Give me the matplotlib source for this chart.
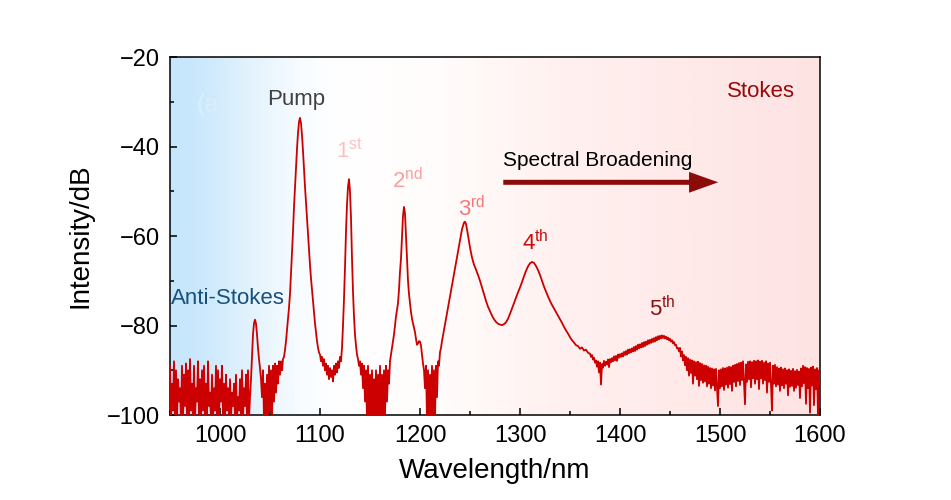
"""Cascaded Raman spectrum: pump, Stokes orders and anti-Stokes line."""

import numpy as np
import matplotlib
matplotlib.use("Agg")
import matplotlib.pyplot as plt
from matplotlib.colors import LinearSegmentedColormap
from matplotlib.ticker import MultipleLocator
from matplotlib.patches import FancyArrowPatch

plt.rcParams["font.family"] = ["Liberation Sans", "DejaVu Sans"]

# 950 .. 1220 nm, 1 nm steps (anti-Stokes, pump, 1st and 2nd order)
db_main = [
    -89, -101, -93, -99, -88, -101, -90, -101, -92, -97,          # 950
    -94, -101, -89, -101, -91, -98, -88.5, -101, -90, -101,       # 960
    -87.5, -99, -93, -101, -89, -101, -94, -97, -88, -101,        # 970
    -92, -101, -90, -99, -89, -101, -93, -101, -88, -98,          # 980
    -95, -101, -91, -101, -94, -99, -89, -101, -90, -101,         # 990
    -92, -97, -89, -101, -93, -101, -91, -99, -94, -101,          # 1000
    -92, -101, -95, -98, -93, -101, -91, -101, -96, -99,          # 1010
    -92, -101, -90, -101, -94, -98, -91, -101, -90, -101,         # 1020
    -96, -92, -87, -82, -79.5, -78.7, -79.6, -82, -85, -87.5,     # 1030
    -89.5, -92, -96, -90, -101, -93, -101, -91, -101, -89,        # 1040
    -99, -90, -101, -89, -97, -88.5, -95, -89, -93, -88,          # 1050
    -91, -88, -90, -87.5, -87, -85.5, -83.5, -81, -78.5, -76,     # 1060
    -73, -68.5, -64, -59, -53.5, -49, -44.5, -40.5, -37, -34.5,   # 1070
    -33.6, -34.8, -37.5, -41, -45, -49, -52.5, -56, -59.5, -63,   # 1080
    -66.5, -69.5, -72, -74.5, -77, -79.5, -81.5, -83.5, -85, -86, # 1090
    -86.5, -88, -87, -89, -87.5, -90, -88.5, -91, -89, -92,       # 1100
    -89.5, -91.5, -90, -92.5, -89, -91, -88.5, -90.5, -88, -89.5, # 1110
    -87, -88, -85, -80, -74, -67, -59, -53, -49, -47.3,           # 1120
    -50, -56, -65, -72.5, -78, -82, -84.5, -86.5, -87.5, -89,     # 1130
    -88, -91, -88.5, -94, -89, -97, -90, -101, -89, -101,         # 1140
    -91, -101, -90, -101, -92, -101, -90, -101, -91, -101,        # 1150
    -89, -101, -91, -101, -90, -100, -89, -97, -90, -93,          # 1160
    -88, -86.5, -85, -83.5, -82, -80, -78, -76.5, -75, -72,       # 1170
    -68, -65, -60, -55.5, -53.5, -55, -60, -65.5, -70, -73,       # 1180
    -75, -77, -78.5, -79.5, -80.5, -81.5, -83, -84.3, -84, -83.5, # 1190
    -83.6, -84.5, -86.5, -88.5, -90, -94, -89, -101, -90, -101,   # 1200
    -91, -101, -89, -101, -90, -101, -89, -96, -88, -89,          # 1210
    -86,                                                          # 1220
]
wl_main = 950 + np.arange(len(db_main))

# 3rd and 4th order, smooth part
wl_mid = [1221, 1222, 1224, 1226, 1228, 1230, 1232, 1234, 1236, 1238,
          1240, 1242, 1244, 1245, 1246, 1248, 1250, 1252, 1254, 1256,
          1258, 1260, 1262, 1264, 1266, 1268, 1270, 1272, 1274, 1276,
          1278, 1280, 1282, 1284, 1286, 1288, 1290, 1292, 1294, 1296,
          1298, 1300, 1302, 1304, 1306, 1308, 1310, 1312, 1314, 1316,
          1318, 1320, 1322, 1324, 1326, 1328, 1330, 1332, 1334, 1336,
          1338, 1340, 1342, 1344, 1346, 1348, 1350, 1352, 1354, 1356,
          1358, 1360, 1362, 1364, 1366, 1368, 1370]
db_mid = [-85, -83.5, -81, -78.5, -76, -73.6, -71, -68.5, -66, -63.5,
          -61, -58.5, -57, -56.8, -57.3, -59.8, -62.6, -64.8, -66.4, -67.5,
          -68.7, -70, -71.5, -73, -74.5, -75.8, -76.8, -77.8, -78.6, -79.2,
          -79.6, -79.8, -79.9, -79.7, -79.3, -78.5, -77.4, -76.2, -75, -73.8,
          -72.6, -71.5, -70.3, -69, -67.8, -66.8, -66.1, -65.8, -66, -66.7,
          -67.6, -68.7, -70, -71.3, -72.4, -73.5, -74.5, -75.4, -76.2, -77.0,
          -77.8, -78.6, -79.4, -80.3, -81.1, -81.8, -82.6, -83.3, -83.8, -84.4,
          -84.6, -85.2, -84.9, -85.6, -85.4, -86.1, -86.3]

# 1371 .. 1600 nm, 1 nm steps (5th order and noise floor)
db_tail = [
    -87.0, -86.6, -87.6, -87.2, -88.3, -87.8, -89.2, -88.0, -90.5,         # 1371
    -88.3, -93.2, -88.6, -89.4, -87.9, -89.0, -88.1, -88.7, -87.6, -89.3,  # 1380
    -87.5, -88.2, -87.3, -88.0, -86.9, -87.8, -86.8, -87.9, -86.5, -87.2,  # 1390
    -86.4, -87.0, -86.2, -86.9, -85.9, -86.6, -85.7, -86.5, -85.4, -86.2,  # 1400
    -85.3, -86.0, -85.1, -85.8, -84.8, -85.7, -84.6, -85.4, -84.3, -85.1,  # 1410
    -84.2, -84.9, -83.9, -84.8, -83.7, -84.6, -83.6, -84.3, -83.3, -84.1,  # 1420
    -83.2, -83.9, -83.0, -83.7, -82.8, -83.6, -82.6, -83.3, -82.4, -83.1,  # 1430
    -82.3, -82.9, -82.2, -82.8, -82.3, -82.9, -82.5, -83.1, -82.7, -83.3,  # 1440
    -83.0, -83.6, -83.3, -84.0, -83.7, -84.4, -84.3, -85.1, -85.0, -85.8,  # 1450
    -85.0, -86.9, -85.8, -87.8, -86.6, -88.9, -87.0, -90.0, -87.3, -91.2,  # 1460
    -87.6, -90.6, -87.8, -93.0, -88.0, -91.2, -88.2, -92.0, -88.1, -93.5,  # 1470
    -88.4, -92.2, -88.6, -92.8, -88.9, -92.5, -89.0, -93.6, -89.2, -93.0,  # 1480
    -89.5, -94.0, -89.6, -93.4, -89.8, -94.5, -89.7, -93.8, -98.0, -90.0,  # 1490
    -94.0, -89.8, -93.6, -89.5, -94.4, -89.6, -93.2, -89.4, -93.9, -89.2,  # 1500
    -93.1, -89.3, -94.6, -89.0, -92.6, -88.8, -93.6, -88.6, -92.4, -88.4,  # 1510
    -93.3, -88.3, -92.2, -88.0, -92.8, -97.6, -88.7, -92.6, -88.1, -92.0,  # 1520
    -88.0, -93.8, -88.2, -91.8, -87.9, -93.0, -88.0, -92.0, -87.8, -94.2,  # 1530
    -88.1, -91.8, -87.9, -93.0, -88.3, -92.2, -88.0, -95.0, -88.5, -92.6,  # 1540
    -88.3, -93.2, -99.0, -89.0, -93.0, -88.8, -93.6, -89.3, -93.2, -89.6,  # 1550
    -94.6, -89.4, -93.4, -89.8, -94.0, -89.6, -93.0, -90.0, -95.6, -89.8,  # 1560
    -93.7, -90.1, -93.5, -89.7, -94.6, -90.2, -93.9, -89.9, -93.3, -90.3,  # 1570
    -96.2, -89.6, -93.6, -89.0, -92.9, -89.3, -97.5, -89.5, -94.0, -89.7,  # 1580
    -99.5, -89.4, -93.4, -89.2, -97.8, -89.8, -94.2, -89.5, -100.5, -90.0, # 1590
    -92.8,                                                                 # 1600
]
wl_tail = 1371 + np.arange(len(db_tail))

wavelength = np.concatenate([wl_main, wl_mid, wl_tail])
intensity = np.concatenate([db_main, db_mid, db_tail])

# order labels: text, anchor (nm, dB), colour
orders = [
    (r"$\mathregular{1^{st}}$", 1116.5, -42.4, "#fcc0c0"),
    (r"$\mathregular{2^{nd}}$", 1171.5, -49.3, "#f9a0a0"),
    (r"$\mathregular{3^{rd}}$", 1237.5, -55.5, "#f47a7a"),
    (r"$\mathregular{4^{th}}$", 1302.5, -63.1, "#cc0a0a"),
    (r"$\mathregular{5^{th}}$", 1429.0, -77.9, "#8b1010"),
]

fig = plt.figure(figsize=(9.51, 5.0), dpi=100)
ax = fig.add_axes([170 / 951, 85 / 500, 650 / 951, 358 / 500])

# background: blue on the anti-Stokes side, pink on the Stokes side
bg = LinearSegmentedColormap.from_list("bg", [
    (0.00, "#c5e6fc"), (0.05, "#cce9fc"), (0.12, "#e2f2fd"),
    (0.20, "#f8fcff"), (0.26, "#ffffff"), (0.42, "#fffcfb"),
    (0.60, "#fff1f0"), (0.80, "#ffe9e9"), (1.00, "#fee3e3")])
ax.imshow(np.linspace(0, 1, 512)[None, :], cmap=bg, aspect="auto",
          extent=(950, 1600, -100, -20), zorder=0)

ax.plot(wavelength, intensity, color="#cc0000", lw=1.3, zorder=3)

ax.set_xlim(950, 1600)
ax.set_ylim(-100, -20)
ax.xaxis.set_major_locator(MultipleLocator(100))
ax.xaxis.set_minor_locator(MultipleLocator(50))
ax.yaxis.set_major_locator(MultipleLocator(20))
ax.yaxis.set_minor_locator(MultipleLocator(10))
ax.tick_params(which="both", direction="in", top=False, right=False, width=1.1)
ax.tick_params(which="major", length=5, labelsize=17, pad=7)
ax.tick_params(which="minor", length=3)
for s in ax.spines.values():
    s.set_linewidth(1.1)

ax.set_xlabel("Wavelength/nm", fontsize=20, labelpad=8)
ax.set_ylabel("Intensity/dB", fontsize=20, labelpad=10)

ax.text(977, -32.3, "(a)", fontsize=18, color="#d8eefd", zorder=2)
ax.text(1047.5, -30.7, "Pump", fontsize=16, color="#404040", zorder=4)
ax.text(950.5, -75.2, "Anti-Stokes", fontsize=16, color="#16507f", zorder=4)
ax.text(1507, -28.9, "Stokes", fontsize=16, color="#960a0a", zorder=4)
ax.text(1283, -44.4, "Spectral Broadening", fontsize=15, color="black", zorder=4)
for label, x, y, c in orders:
    ax.text(x, y, label, fontsize=16, color=c, zorder=4)

arrow = FancyArrowPatch((1280.5, -48.0), (1501, -48.0),
                        arrowstyle="simple,head_length=1.05,head_width=0.75,tail_width=0.18",
                        mutation_scale=20, color="#8b0a0a", lw=0, zorder=4)
ax.add_patch(arrow)

fig.savefig("out.png", dpi=100)
